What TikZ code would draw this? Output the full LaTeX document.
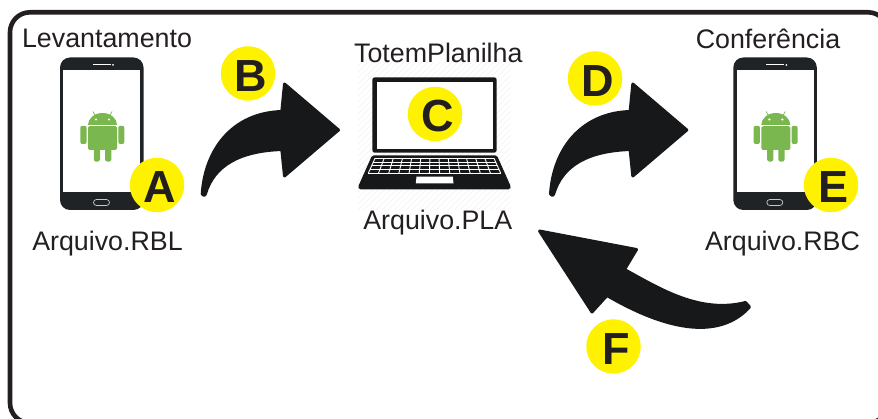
\documentclass[tikz,border=0pt]{standalone}
\usepackage{fontspec}
\setmainfont{Liberation Sans}
\definecolor{ink}{HTML}{231F20}
\definecolor{blk}{HTML}{16181A}
\definecolor{device}{HTML}{1F2326}
\definecolor{badgey}{HTML}{FFF200}
\definecolor{droid}{HTML}{7AB84F}
\tikzset{
  label/.style={font=\fontsize{26.8}{30}\selectfont,text=ink,anchor=base,inner sep=0pt},
  badge/.style={circle,fill=badgey,minimum size=54.5pt,inner sep=0pt,text=ink,font=\fontsize{45}{45}\selectfont\bfseries},
  block/.style={fill=blk,draw=blk,line width=3pt,line join=round},
  frame/.style={draw=ink,line width=4.6pt,rounded corners=20pt},
  keyline/.style={draw=white,line width=0.9pt}
}
\newcommand{\bl}[1]{\hspace*{5pt}\rule{0pt}{36pt}#1}
\newcommand{\phonepic}[1]{%
\begin{scope}[shift={(#1,0)}]
  \fill[device,rounded corners=10pt] (60,57.5) rectangle (143.5,210);
  \fill[white] (63.3,70) rectangle (140.3,192.3);
  \draw[white,line width=1pt] (93,65) -- (110.5,65);
  \fill[white] (113,65) circle (1pt);
  \draw[white!75!device,line width=0.7pt,rounded corners=3pt] (93.5,199.5) rectangle (109.5,205.5);
  \fill[droid] (88,125) arc[start angle=180,end angle=0,x radius=14.5pt,y radius=12pt] -- cycle;
  \fill[droid,rounded corners=1.5pt] (88,126.2) rectangle (117,150);
  \fill[droid,rounded corners=2pt] (80.3,125.8) rectangle (86.6,144);
  \fill[droid,rounded corners=2pt] (118.3,125.8) rectangle (124.3,144);
  \fill[droid,rounded corners=2.5pt] (93.8,146) rectangle (100,161.7);
  \fill[droid,rounded corners=2.5pt] (105,146) rectangle (111.3,161.7);
  \draw[droid,line width=0.7pt] (95,115) -- (92.8,111.5) (110,115) -- (112,111.5);
  \fill[white] (96,119.5) circle (1.2pt) (109,119.5) circle (1.2pt);
\end{scope}}
\newcommand{\curvedarrow}[1]{%
\begin{scope}[shift={(#1,0)}]
  \path[block] (204.2,195.5) -- (202.2,194) .. controls (205,150) and (232,113) .. (281.8,111.5)
    -- (284.5,84) -- (338.5,130) -- (284.5,176) -- (281.8,149.5)
    .. controls (240,151) and (214,165) .. (205.4,194) -- cycle;
\end{scope}}
\begin{document}
\begin{tikzpicture}[x=1pt,y=-1pt]
\useasboundingbox (0,0) rectangle (878,419);
\begin{scope}
  \clip (0,0) rectangle (878,419);
  \draw[frame] (10,12.3) rectangle (888,423);
  % faint backdrop of the laptop image
  \begin{scope}
    \clip (358,63) rectangle (511,210);
    \foreach \k in {0,6,...,300}
      \draw[black!5,line width=0.5pt] (358+\k-150,210) -- (358+\k,60);
  \end{scope}
\end{scope}

\phonepic{0}
\phonepic{673.3}

% laptop
\fill[blk,rounded corners=2.5pt] (372.3,77.3) rectangle (496.7,152.7);
\fill[white] (376.7,81.7) rectangle (492.7,149);
\fill[blk,rounded corners=1.5pt] (372,155.5) -- (497,155.5) -- (511,187) -- (510,189.3) -- (359,189.3) -- (358,187) -- cycle;
\foreach \t in {0,0.25,0.5,0.75,1}
  \draw[keyline] ({375-6.7*\t},{158.3+15*\t}) -- ({494+6.7*\t},{158.3+15*\t});
\foreach \c in {0,1,...,13}
  \draw[keyline] ({375+\c*119/13},158.3) -- ({368.3+\c*132.4/13},173.3);
\fill[white] (416.5,176.7) -- (452.8,176.7) -- (453.5,183.3) -- (415.8,183.3) -- cycle;

% block arrows
\curvedarrow{0}
\curvedarrow{348.3}
\path[block] (539.5,231) -- (636.5,249.5) -- (624.5,269.5)
  .. controls (660,289) and (700,314) .. (745.5,302.5)
  -- (749.5,307)
  .. controls (725,334) and (680,338) .. (607,295.5)
  -- (592,312) -- cycle;

% labels
\node[label] (lev) at (107,48) {Levantamento};
\node[label] (tot) at (438.3,63) {TotemPlanilha};
\node[label] (con) at (768,49) {Conferência};
\node[label] (rbl) at (107.5,250.7) {Arquivo.RBL};
\node[label] (pla) at (437.8,230) {Arquivo.PLA};
\node[label] (rbc) at (782.5,250.5) {Arquivo.RBC};

% badges
\node[badge] (a) at (157,185) {\bl{A}};
\node[badge] (b) at (248,73.5) {\bl{B}};
\node[badge] (c) at (435,114) {\bl{C}};
\node[badge] (d) at (595,78.5) {\bl{D}};
\node[badge] (e) at (831,185) {\bl{E}};
\node[badge] (f) at (613.5,346.5) {\bl{F}};
\end{tikzpicture}
\end{document}
